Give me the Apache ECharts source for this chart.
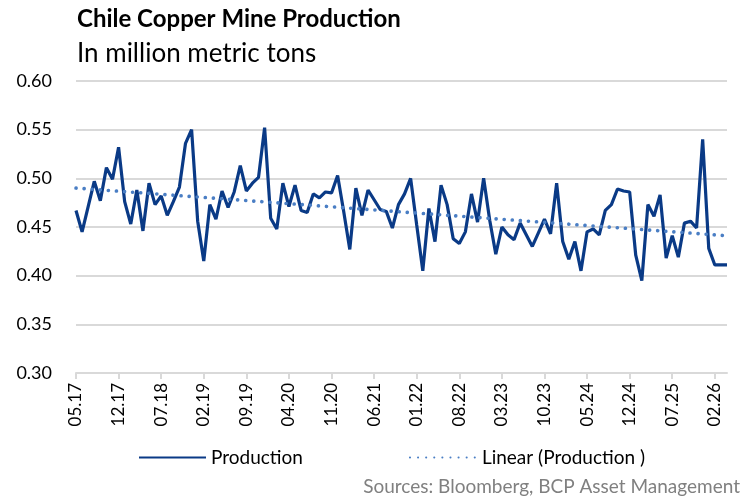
<!DOCTYPE html>
<html>
<head>
<meta charset="utf-8">
<script src="https://cdn.jsdelivr.net/npm/echarts@6/dist/echarts.min.js"></script>
<style>
  html, body { margin: 0; padding: 0; background: #fff; }
  #chart { width: 746px; height: 498px; }
</style>
</head>
<body>
<div id="chart"></div>
<script>
// monthly labels 05.17 .. 04.26
const months = [];
for (let y = 2017, m = 5; months.length < 108; m++) {
  if (m > 12) { m = 1; y++; }
  months.push(String(m).padStart(2, '0') + '.' + String(y % 100).padStart(2, '0'));
}

const production = [
  0.467, 0.445, 0.471, 0.497, 0.477, 0.511, 0.499, 0.532, 0.476, 0.453,
  0.488, 0.446, 0.495, 0.473, 0.482, 0.462, 0.476, 0.491, 0.536, 0.550,
  0.456, 0.415, 0.473, 0.458, 0.487, 0.470, 0.486, 0.513, 0.487, 0.495,
  0.501, 0.552, 0.459, 0.448, 0.495, 0.471, 0.493, 0.467, 0.465, 0.484,
  0.480, 0.486, 0.485, 0.503, 0.466, 0.427, 0.490, 0.462, 0.488, 0.478,
  0.468, 0.466, 0.449, 0.473, 0.484, 0.500, 0.452, 0.405, 0.469, 0.435,
  0.493, 0.473, 0.438, 0.433, 0.445, 0.484, 0.455, 0.500, 0.457, 0.422,
  0.450, 0.442, 0.437, 0.454, 0.442, 0.430, 0.444, 0.458, 0.443, 0.495,
  0.435, 0.417, 0.435, 0.405, 0.445, 0.448, 0.442, 0.467, 0.473, 0.489,
  0.487, 0.486, 0.421, 0.395, 0.473, 0.461, 0.483, 0.418, 0.441, 0.419,
  0.454, 0.456, 0.449, 0.540, 0.428, 0.411, 0.411, 0.411
];

// linear trend: first and last value
const trendEnds = [0.490, 0.441];
const trend = production.map((v, i) =>
  i === 0 ? trendEnds[0] : (i === production.length - 1 ? trendEnds[1] : null));

const yTicks = [0.30, 0.35, 0.40, 0.45, 0.50, 0.55, 0.60];

const font = 'Lato, "Liberation Sans", sans-serif';

const chart = echarts.init(document.getElementById('chart'));
chart.setOption({
  animation: false,
  title: [
    {
      text: 'Chile Copper Mine Production',
      left: 72, top: 2,
      textStyle: { fontFamily: font, fontSize: 24, fontWeight: 'bold', color: '#000' }
    },
    {
      text: 'In million metric tons',
      left: 72, top: 36,
      textStyle: { fontFamily: font, fontSize: 26, fontWeight: 'normal', color: '#000' }
    }
  ],
  grid: { left: 76, right: 19, top: 81, bottom: 125 },
  legend: {
    left: 133, top: 443,
    itemWidth: 67, itemHeight: 14, itemGap: 106,
    itemStyle: { opacity: 0 },
    textStyle: { fontFamily: font, fontSize: 19, color: '#000' },
    data: ['Production', 'Linear (Production )']
  },
  xAxis: {
    type: 'category',
    data: months,
    boundaryGap: false,
    axisLine: { lineStyle: { color: '#d9d9d9', width: 2 } },
    axisTick: { interval: 6, length: 6, lineStyle: { color: '#d9d9d9', width: 2 } },
    axisLabel: {
      interval: 6, rotate: 90, margin: 10,
      fontFamily: font, fontSize: 17, color: '#000'
    }
  },
  yAxis: {
    type: 'value',
    min: yTicks[0], max: yTicks[yTicks.length - 1], interval: 0.05,
    axisLine: { show: false },
    axisTick: { show: false },
    splitLine: { lineStyle: { color: '#d9d9d9', width: 2 } },
    axisLabel: {
      margin: 24, fontFamily: font, fontSize: 18, color: '#000',
      formatter: v => v.toFixed(2)
    }
  },
  series: [
    {
      name: 'Production',
      type: 'line',
      data: production,
      symbol: 'none',
      lineStyle: { color: '#0a3a86', width: 3.2 },
      itemStyle: { color: '#0a3a86' }
    },
    {
      name: 'Linear (Production )',
      type: 'line',
      data: trend,
      connectNulls: true,
      symbol: 'none',
      lineStyle: { color: '#4a7ec4', width: 3.6, type: [0.1, 8], cap: 'round' },
      itemStyle: { color: '#4a7ec4' }
    }
  ],
  graphic: [
    {
      type: 'text',
      right: 6, top: 477,
      style: {
        text: 'Sources: Bloomberg, BCP Asset Management',
        fontFamily: font, fontSize: 19, fill: '#808080'
      }
    }
  ]
});
</script>
</body>
</html>
